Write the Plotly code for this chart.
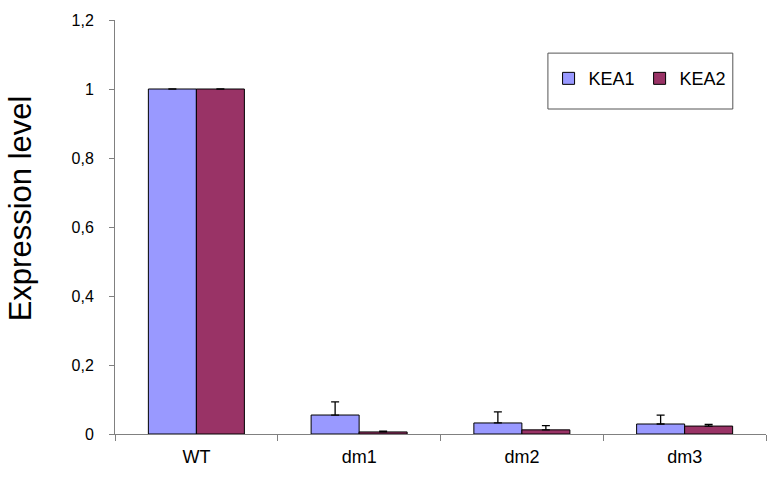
import plotly.graph_objects as go

categories = ["WT", "dm1", "dm2", "dm3"]
kea1 = [1.0, 0.055, 0.032, 0.029]
kea1_err = [0.0, 0.038, 0.032, 0.026]
kea2 = [1.0, 0.006, 0.012, 0.023]
kea2_err = [0.0, 0.002, 0.012, 0.005]
y_ticks = [0, 0.2, 0.4, 0.6, 0.8, 1.0, 1.2]
y_tick_labels = ["0", "0,2", "0,4", "0,6", "0,8", "1", "1,2"]
y_title = "Expression level"

fig = go.Figure()
fig.add_trace(go.Bar(
    name="KEA1", x=categories, y=kea1,
    marker=dict(color="#9999FF", line=dict(color="black", width=1)),
    error_y=dict(type="data", array=kea1_err, symmetric=False, arrayminus=[0]*4,
                 color="black", thickness=1.3, width=4),
))
fig.add_trace(go.Bar(
    name="KEA2", x=categories, y=kea2,
    marker=dict(color="#993366", line=dict(color="black", width=1)),
    error_y=dict(type="data", array=kea2_err, symmetric=False, arrayminus=[0]*4,
                 color="black", thickness=1.3, width=4),
))

fig.add_shape(type="rect", xref="paper", yref="paper",
              x0=0.665, x1=0.949, y0=0.785, y1=0.920,
              line=dict(color="#555555", width=1), fillcolor="white", layer="below")

fig.add_annotation(text=y_title, xref="paper", yref="paper",
                   x=-0.146, y=0.545, xanchor="center", yanchor="middle",
                   textangle=-90, showarrow=False, font=dict(size=31, color="black"))

fig.update_layout(
    width=767, height=488,
    margin=dict(l=115, r=1, t=20, b=54),
    paper_bgcolor="white", plot_bgcolor="white",
    barmode="group", bargap=0.41, bargroupgap=0,
    font=dict(family="Arial, Liberation Sans, sans-serif", color="black", size=16),
    showlegend=True,
    legend=dict(orientation="h", x=0.666, y=0.903, xanchor="left", yanchor="top",
                bgcolor="rgba(0,0,0,0)", borderwidth=0,
                font=dict(size=18), itemwidth=30, tracegroupgap=0),
    xaxis=dict(showline=True, linecolor="#808080", linewidth=1,
               ticks="outside", tickson="boundaries", ticklen=6, tickcolor="#808080",
               showgrid=False, tickfont=dict(size=18), ticklabelstandoff=6),
    yaxis=dict(range=[0, 1.2], tickvals=y_ticks, ticktext=y_tick_labels,
               showline=True, linecolor="#808080", linewidth=1,
               ticks="outside", ticklen=5, tickcolor="#808080",
               showgrid=False, zeroline=False, tickfont=dict(size=16),
               ticklabelstandoff=12),
)

fig.write_html(
    "out.html",
    config={"displayModeBar": False},
    post_script="document.body.style.margin='0';document.body.style.overflow='hidden';",
)
